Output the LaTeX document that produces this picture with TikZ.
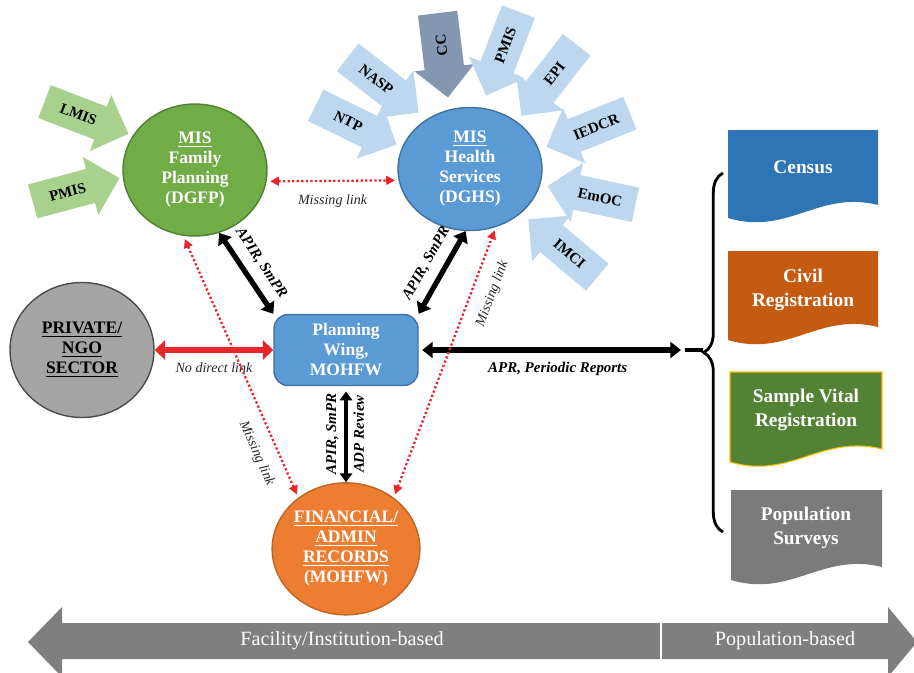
\documentclass[tikz,border=0pt]{standalone}
\usepackage{fontspec}
\setmainfont{Liberation Serif}
\usepackage{tikz}
\usetikzlibrary{arrows.meta,shapes,positioning,decorations.pathreplacing}

\definecolor{fpgreen}{HTML}{70AD47}
\definecolor{fpgreendark}{HTML}{507E32}
\definecolor{fpinput}{HTML}{A9D18E}
\definecolor{hsblue}{HTML}{5B9BD5}
\definecolor{hsbluedark}{HTML}{41719C}
\definecolor{hsinput}{HTML}{BDD7EE}
\definecolor{ccgray}{HTML}{8497B0}
\definecolor{finorange}{HTML}{ED7D31}
\definecolor{ngogray}{HTML}{A5A5A5}
\definecolor{censusblue}{HTML}{2E75B6}
\definecolor{civilorange}{HTML}{C55A11}
\definecolor{svrgreen}{HTML}{548235}
\definecolor{svryellow}{HTML}{FFC000}
\definecolor{surveygray}{HTML}{7B7B7B}
\definecolor{bandgray}{HTML}{7F7F7F}
\definecolor{linkred}{HTML}{E8262A}

\tikzstyle{hub} = [ellipse, inner sep=0pt, align=center, text=white, line width=0.8pt, minimum width=2.88cm, font=\bfseries\fontsize{10}{11.4}\selectfont]
\tikzstyle{wing} = [rectangle, rounded corners=8pt, align=center, text=white, fill=hsblue, draw=hsbluedark, line width=0.8pt, minimum width=2.88cm, minimum height=1.42cm, font=\bfseries\fontsize{10}{11.4}\selectfont]
\tikzstyle{feeder} = [single arrow, anchor=tip, inner xsep=3.5pt, inner ysep=5pt, minimum height=1.8cm, minimum width=1.2cm, single arrow head extend=0.2cm, font=\bfseries\fontsize{8.5}{10}\selectfont]
\tikzstyle{feedback} = [feeder, shape border rotate=180]
\tikzstyle{report} = [line width=3pt, <->, >={Triangle[length=6pt,width=9pt]}]
\tikzstyle{nolink} = [line width=3.8pt, linkred, <->, >={Triangle[length=6pt,width=11pt]}]
\tikzstyle{misslink} = [line width=1.3pt, linkred, dash pattern=on 1.3pt off 1.3pt, <->, >={Triangle[length=5pt,width=5pt]}, shorten <=2pt, shorten >=2pt]
\tikzstyle{review} = [line width=2pt, <->, >={Triangle[length=5pt,width=7pt]}]
\tikzstyle{linktext} = [font=\itshape\fontsize{8}{9}\selectfont, text=black!85]
\tikzstyle{flowtext} = [font=\bfseries\itshape\fontsize{8.5}{10}\selectfont]
\tikzstyle{doctext} = [align=center, text=white, font=\bfseries\fontsize{11}{13.6}\selectfont]
\tikzstyle{bandtext} = [text=white, font=\fontsize{11.5}{13}\selectfont]

% left, top, right, bottom, colour
\newcommand{\wavedoc}[5]{%
  \fill[#5] (#1,#2) -- (#3,#2) -- (#3,#4-13)
    .. controls ({#3-0.4*(#3-#1)},#4-28) and ({#1+0.4*(#3-#1)},#4+18) .. (#1,#4) -- cycle;}

\begin{document}
\begin{tikzpicture}[x=0.02cm, y=-0.02cm]
  \useasboundingbox (0,0) rectangle (914,673);

  \node[hub, fill=fpgreen, draw=fpgreendark, minimum height=2.64cm] (DGFP) at (195,170) {\underline{MIS}\\Family\\Planning\\(DGFP)};
  \node[hub, fill=hsblue, draw=hsbluedark, minimum height=2.46cm] (DGHS) at (470,169) {\underline{MIS}\\Health\\Services\\(DGHS)};
  \node[wing] (Planning) at (346,350) {Planning\\Wing,\\MOHFW};
  \node[hub, fill=finorange, draw=finorange!80!black, minimum height=2.64cm, below=1.92cm of Planning] (Finance) {\underline{FINANCIAL/}\\\underline{ADMIN}\\\underline{RECORDS}\\(MOHFW)};
  \node[hub, fill=ngogray, draw=black!70, text=black, minimum height=2.7cm] (NGO) at (82,350) {\underline{PRIVATE/}\\\underline{NGO}\\\underline{SECTOR}};

  % feeders of DGFP
  \node[feeder, fill=fpinput, rotate=-21] (LMIS) at (129,134) {LMIS};
  \node[feeder, fill=fpinput, rotate=15] (PMISfp) at (120,178) {PMIS};

  % feeders of DGHS
  \node[feeder, fill=hsinput, rotate=-26] (NTP) at (397,145) {NTP};
  \node[feeder, fill=hsinput, rotate=-38] (NASP) at (419,113) {NASP};
  \node[feedback, fill=ccgray, rotate=97, minimum height=1.7cm, inner ysep=8pt] (CC) at (448,98) {CC};
  \node[feedback, fill=hsinput, rotate=69] (PMIShs) at (486,96) {PMIS};
  \node[feedback, fill=hsinput, rotate=52] (EPI) at (521,116) {EPI};
  \node[feedback, fill=hsinput, rotate=22] (IEDCR) at (546,147) {IEDCR};
  \node[feedback, fill=hsinput, rotate=-12] (EmOC) at (547,186) {EmOC};
  \node[feedback, fill=hsinput, rotate=-40] (IMCI) at (528,219) {IMCI};

  % population-based sources
  \wavedoc{728}{130}{878}{218}{censusblue}
  \node[doctext] (Census) at (803,167) {Census};
  \wavedoc{728}{251}{878}{340}{civilorange}
  \node[doctext] (Civil) at (803,290) {Civil\\Registration};
  \wavedoc{730}{372}{882}{462}{svrgreen, draw=svryellow, line width=0.6pt}
  \node[doctext] (SVR) at (806,410) {Sample Vital\\Registration};
  \wavedoc{731}{490}{882}{580}{surveygray}
  \node[doctext] (Surveys) at (806,528) {Population\\Surveys};

  \coordinate (APRend) at (681,350);
  \coordinate (BraceTip) at (703,350);
  \draw[line width=1.6pt, decorate, decoration={brace, amplitude=11pt}] (723,532) -- (723,173);
  \draw[line width=2.5pt, shorten <=2pt] (APRend) -- (BraceTip);

  \draw[report] (DGFP.-69) -- (Planning.north west) node[midway, above=2pt, sloped, flowtext] {APIR, SmPR};
  \draw[report] (Planning.north east) -- (DGHS.-94) node[midway, above=2pt, sloped, flowtext] {APIR, SmPR};
  \draw[report, shorten <=2pt] (Planning.east) -- (APRend) node[pos=0.53, below=2pt, flowtext] {APR, Periodic Reports};
  \draw[review, shorten >=3pt] (Finance.north) -- (Planning.south)
    node[midway, above, sloped, flowtext] {APIR, SmPR}
    node[midway, below, sloped, flowtext] {ADP Review};
  \draw[nolink] (NGO.east) -- (Planning.west) node[midway, below=2pt, linktext] {No direct link};

  \draw[misslink] (DGFP.-9) -- (DGHS.189) node[midway, below=4pt, linktext] {Missing link};
  \draw[misslink] (DGFP.-100) -- (Finance.133) node[pos=0.8, below=4pt, sloped, linktext] {Missing link};
  \draw[misslink] (Finance.47) -- (DGHS.-66) node[pos=0.78, below=4pt, sloped, linktext] {Missing link};

  % bottom band
  \fill[bandgray] (28,642) -- (62,607) -- (62,623) -- (888,623) -- (888,607) -- (917,642) -- (888,677) -- (888,659) -- (62,659) -- (62,677) -- cycle;
  \draw[white, line width=1.5pt] (661,621) -- (661,661);
  \node[bandtext] (Facility) at (342,641) {Facility/Institution-based};
  \node[bandtext] (Population) at (785,641) {Population-based};
\end{tikzpicture}
\end{document}
